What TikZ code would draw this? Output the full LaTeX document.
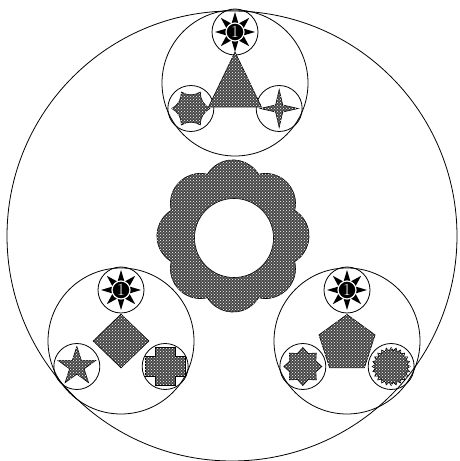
\documentclass[tikz,border=0pt]{standalone}
\usetikzlibrary{shapes.geometric,patterns,calc}
\tikzset{
  ring/.style={
    circle,
    draw,
    line width=0.8pt,
    inner sep=0pt
  },
  group/.style={
    ring,
    minimum size=146pt
  },
  slot/.style={
    ring,
    minimum size=46pt
  },
  hatched/.style={
    draw,
    line width=0.6pt,
    fill=black!72,
    postaction={pattern=crosshatch dots, pattern color=white}
  },
  rays/.style={
    star,
    star points=8,
    star point ratio=2.2,
    fill=black,
    inner sep=0pt,
    minimum size=40pt
  },
  badge/.style={
    circle,
    fill=black,
    draw=white,
    line width=1.2pt,
    inner sep=0pt,
    minimum size=18pt,
    text=white,
    font=\fontsize{17}{17}\selectfont
  },
  spiky/.style={
    star,
    hatched,
    inner sep=0pt,
    minimum size=38pt
  }
}

\begin{document}
\begin{tikzpicture}[x=1pt,y=1pt]
  \useasboundingbox (0,0) rectangle (459,461);
  \node[ring, minimum size=450pt] (outer) at (232,225) {};

  \node[group] (top) at (235,378) {};
  \node[group] (left) at (121,120) {};
  \node[group] (right) at (347,120) {};

  \foreach \g in {top,left,right}{
    \node[slot] (\g-sun) at ($(\g)+(90:51)$) {};
    \node[slot] (\g-a) at ($(\g)+(210:51)$) {};
    \node[slot] (\g-b) at ($(\g)+(330:51)$) {};
    \node[rays] (\g-rays) at (\g-sun) {};
    \node[badge] (\g-one) at (\g-sun) {1};
  }

  % flower with hole
  \coordinate (flower) at (233,225);
  \draw[hatched] (flower) ++(-22.5:66.8)
    \foreach \a in {0,45,...,315}{ arc[start angle=\a-58.5, end angle=\a+58.5, radius=30] } -- cycle;
  \node[circle, draw, fill=white, line width=0.6pt, inner sep=0pt, minimum size=79pt] (hole) at (234,223) {};

  % top group
  \draw[hatched, shift={(top)}] (0,31) -- (-26.5,-24) -- (26.5,-24) -- cycle;
  \draw[hatched, shift={(top-a)}] (0:19)
    \foreach \a in {60,120,...,360}{ to[bend left=30] (\a:19) } -- cycle;
  \node[spiky, star points=4, star point ratio=3.8] (sparkle) at (top-b) {};

  % left group
  \node[diamond, hatched, inner sep=0pt, minimum width=56pt, minimum height=54pt] (rhomb) at (left) {};
  \node[spiky, star points=5, star point ratio=2.618, minimum size=40pt] (pentagram) at (left-a) {};
  \draw[hatched, shift={(left-b)}] (-10,19) -- (10,19) -- (10,10) -- (20,10) -- (20,-10) -- (10,-10)
    -- (10,-19) -- (-10,-19) -- (-10,-10) -- (-20,-10) -- (-20,10) -- (-10,10) -- cycle;

  % right group
  \node[regular polygon, regular polygon sides=5, hatched, inner sep=0pt, minimum size=59pt] (penta) at ($(right)+(0,-3)$) {};
  \node[spiky, star points=8, star point ratio=1.35] (octa) at (right-a) {};
  \node[spiky, star points=24, star point ratio=1.2] (burst) at (right-b) {};
\end{tikzpicture}
\end{document}
